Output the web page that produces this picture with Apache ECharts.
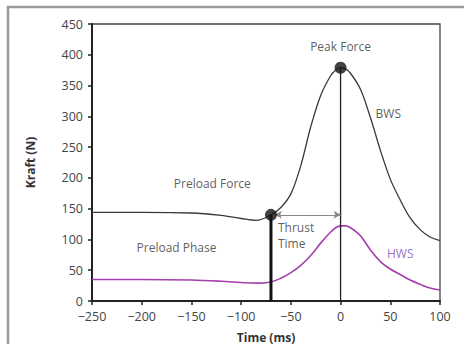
<!DOCTYPE html>
<html>
<head>
<meta charset="utf-8">
<script src="https://cdn.jsdelivr.net/npm/echarts@6/dist/echarts.min.js"></script>
<style>
  html, body { margin: 0; padding: 0; background: #fff; }
  #chart { width: 464px; height: 344px; }
</style>
</head>
<body>
<div id="chart"></div>
<script>
// time in ms, force in N
const timeMs = [-250, -200, -150, -120, -100, -85, -70, -60, -50, -40, -30, -20, -10, -5, 0, 5, 10, 20, 30, 40, 50, 60, 70, 80, 90, 100];
const bws = [144, 144, 143, 139, 134, 131, 140, 152, 174, 220, 283, 334, 366, 375, 379, 377, 370, 344, 298, 245, 198, 164, 135, 116, 104, 98];
const hws = [35, 35, 34, 32, 30, 29, 31, 37, 46, 58, 74, 94, 112, 119, 122, 122, 119, 106, 83, 64, 52, 43, 34, 27, 21, 18];

const xTicks = [-250, -200, -150, -100, -50, 0, 50, 100];
const yTicks = [0, 50, 100, 150, 200, 250, 300, 350, 400, 450];

const preloadPoint = [-70, 140];
const peakPoint = [0, 379];

// text annotations [t, N, text, align]
const notes = [
  [0, 413, 'Peak Force', 'center'],
  [48, 305, 'BWS', 'center'],
  [-129, 191, 'Preload Force', 'center'],
  [-165, 87, 'Preload Phase', 'center'],
  [-63, 119, 'Thrust', 'left'],
  [-63, 93, 'Time', 'left'],
  [60, 77, 'HWS', 'center']
];

const FONT = 'Open Sans';
const ink = '#333';
const purple = '#a43fae';

const chart = echarts.init(document.getElementById('chart'), null, { renderer: 'svg' });

chart.setOption({
  animation: false,
  textStyle: { fontFamily: FONT },
  grid: { left: 92, right: 24, top: 24, bottom: 43, outerBoundsMode: 'none', containLabel: false },
  graphic: [
    {
      type: 'polyline',
      shape: { points: [[8, 344], [8, 7], [464, 7]] },
      style: { fill: 'none', stroke: '#9a9a9a', lineWidth: 2.5 },
      silent: true
    },
    {
      type: 'polyline',
      shape: { points: [[92, 24], [440, 24], [440, 301]] },
      style: { fill: 'none', stroke: '#444', lineWidth: 1.3 },
      silent: true
    }
  ],
  xAxis: {
    type: 'value',
    min: xTicks[0],
    max: xTicks[xTicks.length - 1],
    interval: 50,
    name: 'Time (ms)',
    nameLocation: 'middle',
    nameGap: 30,
    nameTextStyle: { fontSize: 12, fontWeight: 'bold', color: ink, fontFamily: FONT },
    axisLine: { onZero: false, lineStyle: { color: '#222', width: 2 } },
    axisTick: { length: 4, lineStyle: { color: '#222', width: 1.5 } },
    axisLabel: { margin: 9, fontSize: 12.5, color: '#444', fontFamily: FONT,
      formatter: v => String(v).replace('-', '\u2212') },
    splitLine: { show: false }
  },
  yAxis: {
    type: 'value',
    min: yTicks[0],
    max: yTicks[yTicks.length - 1],
    interval: 50,
    name: 'Kraft (N)',
    nameLocation: 'middle',
    nameGap: 56,
    nameRotate: 90,
    nameTextStyle: { fontSize: 12, fontWeight: 'bold', color: ink, fontFamily: FONT },
    axisLine: { show: true, onZero: false, lineStyle: { color: '#222', width: 2 } },
    axisTick: { show: true, length: 4, lineStyle: { color: '#222', width: 1.5 } },
    axisLabel: { margin: 9, fontSize: 12.5, color: '#444', fontFamily: FONT },
    splitLine: { show: false }
  },
  series: [
    {
      name: 'BWS',
      type: 'line',
      data: timeMs.map((t, i) => [t, bws[i]]),
      smooth: 0.35,
      symbol: 'none',
      lineStyle: { color: '#3a3a3a', width: 1.3 },
      z: 3
    },
    {
      name: 'HWS',
      type: 'line',
      data: timeMs.map((t, i) => [t, hws[i]]),
      smooth: 0.35,
      symbol: 'none',
      lineStyle: { color: purple, width: 1.6 },
      z: 3
    },
    {
      name: 'thrust start',
      type: 'line',
      data: [[preloadPoint[0], 0], preloadPoint],
      symbol: 'none',
      lineStyle: { color: '#111', width: 3 },
      z: 4
    },
    {
      name: 'peak',
      type: 'line',
      data: [[peakPoint[0], 0], peakPoint],
      symbol: 'none',
      lineStyle: { color: '#222', width: 1.3 },
      z: 4,
      markLine: {
        silent: true,
        symbol: ['arrow', 'arrow'],
        symbolSize: [6, 7],
        label: { show: false },
        lineStyle: { color: '#888', width: 1.2, type: 'solid' },
        data: [[{ coord: [preloadPoint[0] + 4, preloadPoint[1]] }, { coord: [peakPoint[0], preloadPoint[1]] }]]
      }
    },
    {
      name: 'dots',
      type: 'scatter',
      data: [preloadPoint, peakPoint],
      symbolSize: 12,
      itemStyle: { color: '#111' },
      z: 6
    },
    {
      name: 'notes',
      type: 'scatter',
      symbolSize: 0,
      data: notes.map(n => ({
        value: [n[0], n[1]],
        label: {
          show: true,
          position: 'inside',
          formatter: n[2],
          align: n[3],
          fontSize: 12,
          lineHeight: 14,
          fontFamily: FONT,
          color: n[2] === 'HWS' ? '#7b4db5' : ink
        }
      })),
      z: 7
    }
  ]
});
</script>
</body>
</html>
